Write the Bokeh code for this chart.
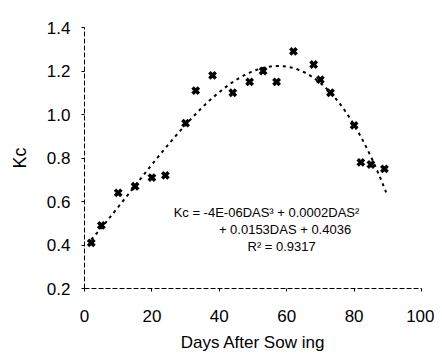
import numpy as np
from bokeh.plotting import figure
from bokeh.models import Label, FixedTicker, NumeralTickFormatter
from bokeh.embed import file_html
from bokeh.resources import INLINE

days = [2, 5, 10, 15, 20, 24, 30, 33, 38, 44, 49, 53, 57, 62, 68, 70, 73, 80, 82, 85, 89]
kc = [0.41, 0.49, 0.64, 0.67, 0.71, 0.72, 0.96, 1.11, 1.18, 1.10, 1.15, 1.20, 1.15, 1.29, 1.23, 1.16, 1.10, 0.95, 0.78, 0.77, 0.75]
x_ticks = [0, 20, 40, 60, 80, 100]
y_ticks = [0.2, 0.4, 0.6, 0.8, 1.0, 1.2, 1.4]
eq_lines = ["Kc = -4E-06DAS³ + 0.0002DAS²", "+ 0.0153DAS + 0.4036", "R² = 0.9317"]

FONT = "Liberation Sans"

p = figure(width=434, height=357, x_range=(0, 100), y_range=(0.2, 1.4),
           output_backend="svg", toolbar_location=None,
           min_border_left=84, min_border_right=13, min_border_top=27, min_border_bottom=69)
p.grid.visible = False
p.outline_line_color = None
p.background_fill_color = "white"

# trendline: cubic fit of the data
coef = np.polyfit(days, kc, 3)
xs = np.linspace(min(days), max(days) + 0.5, 200)
p.line(xs, np.polyval(coef, xs), line_color="black", line_width=2, line_dash="3 4")

p.scatter(days, kc, marker="x", size=9, line_color="black", line_width=3.5)

for ax in (p.xaxis[0], p.yaxis[0]):
    ax.axis_line_color = "black"
    ax.axis_line_dash = "5 2"
    ax.axis_line_width = 1
    ax.major_tick_line_color = "black"
    ax.major_tick_in = 0
    ax.major_tick_out = 3
    ax.minor_tick_line_color = None
    ax.major_label_text_font = FONT
    ax.major_label_text_font_size = "17px"
    ax.major_label_text_color = "black"

p.xaxis.ticker = FixedTicker(ticks=x_ticks)
p.yaxis.ticker = FixedTicker(ticks=y_ticks)
p.yaxis.formatter = NumeralTickFormatter(format="0.0")
p.xaxis.major_label_standoff = 18
p.yaxis.major_label_standoff = 11

p.xaxis.axis_label = "Days After Sow ing"
p.xaxis.axis_label_text_font = FONT
p.xaxis.axis_label_text_font_style = "normal"
p.xaxis.axis_label_text_font_size = "17px"
p.xaxis.axis_label_text_color = "black"
p.xaxis.axis_label_standoff = 8

p.yaxis.axis_label = "Kc"
p.yaxis.axis_label_text_font = FONT
p.yaxis.axis_label_text_font_style = "normal"
p.yaxis.axis_label_text_font_size = "18px"
p.yaxis.axis_label_text_color = "black"
p.yaxis.axis_label_standoff = 14

# equation
eq_x = [54, 59.5, 58.5]
eq_y = [0.549, 0.471, 0.393]
for t, ex, ey in zip(eq_lines, eq_x, eq_y):
    p.add_layout(Label(x=ex, y=ey, text=t, text_align="center", text_baseline="middle",
                       text_font=FONT, text_font_size="13px", text_color="black"))

open("out.html", "w").write(file_html(p, INLINE))
